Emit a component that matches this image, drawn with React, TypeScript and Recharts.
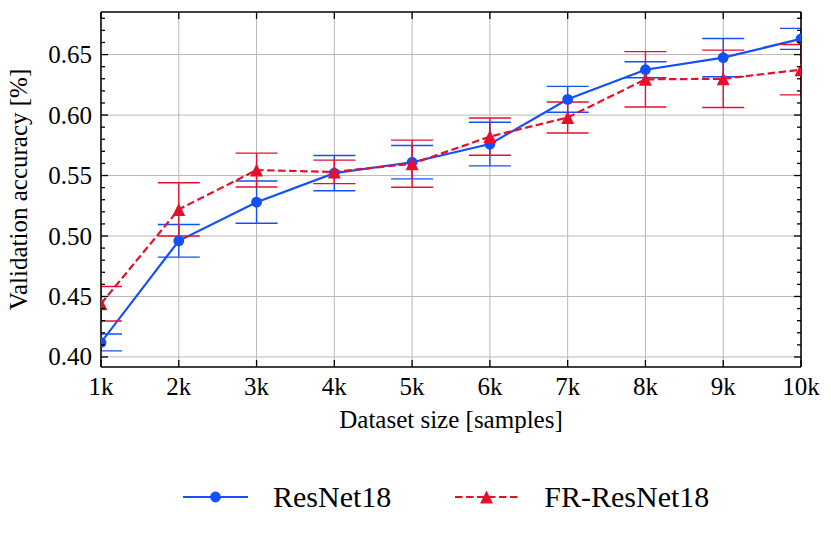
import React from 'react';
import { LineChart, Line, XAxis, YAxis, CartesianGrid, ErrorBar, Legend } from 'recharts';

// ---- data ----
const sizes = [1, 2, 3, 4, 5, 6, 7, 8, 9, 10];
const sizeLabels = ['1k', '2k', '3k', '4k', '5k', '6k', '7k', '8k', '9k', '10k'];
const resnet = [0.412, 0.496, 0.528, 0.552, 0.561, 0.576, 0.613, 0.6375, 0.6475, 0.663];
const resnetErr = [0.007, 0.0135, 0.0175, 0.0146, 0.0138, 0.018, 0.0107, 0.0066, 0.0158, 0.0087];
const frResnet = [0.444, 0.522, 0.5545, 0.553, 0.5598, 0.5822, 0.598, 0.6295, 0.63, 0.6375];
const frResnetErr = [0.0143, 0.022, 0.014, 0.0097, 0.0195, 0.0154, 0.0128, 0.0229, 0.0237, 0.0208];
const majorYTicks = [0.4, 0.45, 0.5, 0.55, 0.6, 0.65];
const allYTicks = [
  0.4, 0.41, 0.42, 0.43, 0.44, 0.45, 0.46, 0.47, 0.48, 0.49, 0.5, 0.51, 0.52, 0.53, 0.54,
  0.55, 0.56, 0.57, 0.58, 0.59, 0.6, 0.61, 0.62, 0.63, 0.64, 0.65, 0.66, 0.67, 0.68,
];
const yDomain = [0.3917, 0.6852];
const seriesNames = ['ResNet18', 'FR-ResNet18'];

const BLUE = '#1450fa';
const RED = '#e6102a';
const FONT = '"Liberation Serif", "Times New Roman", serif';
const FS = 25;

// layout
const M = { top: 11, right: 29, bottom: 111, left: 0 };
const Y_AXIS_W = 101;
const X_AXIS_H = 60;
const W = 831;
const H = 538;

const rows = sizes.map((s, i) => ({
  size: s,
  r: resnet[i],
  rErr: resnetErr[i],
  fr: frResnet[i],
  frErr: frResnetErr[i],
}));

const isMajor = (v: number) => Math.abs(v * 20 - Math.round(v * 20)) < 1e-6;

const LeftTick = (props: any) => {
  const { x, y, payload } = props;
  const v = payload.value as number;
  const major = isMajor(v);
  return (
    <g>
      <path d={`M${x},${y}h${major ? 7 : 4}`} stroke="#000" strokeWidth={1.3} fill="none" />
      {major && (
        <text x={x - 9} y={y + 8.5} textAnchor="end" fontFamily={FONT} fontSize={FS} fill="#000">
          {v.toFixed(2)}
        </text>
      )}
    </g>
  );
};

const RightTick = (props: any) => {
  const { x, y, payload } = props;
  const v = payload.value as number;
  const major = isMajor(v);
  return (
    <g>
      <path d={`M${x},${y}h${major ? -7 : -4}`} stroke="#000" strokeWidth={1.3} fill="none" />
    </g>
  );
};

const BottomTick = (props: any) => {
  const { x, y, payload } = props;
  const idx = sizes.indexOf(payload.value);
  return (
    <g>
      <path d={`M${x},${y}v-7`} stroke="#000" strokeWidth={1.3} fill="none" />
      <text x={x} y={y + 28} textAnchor="middle" fontFamily={FONT} fontSize={FS} fill="#000">
        {sizeLabels[idx]}
      </text>
    </g>
  );
};

const TopTick = (props: any) => {
  const { x, y } = props;
  return (
    <g>
      <path d={`M${x},${y}v7`} stroke="#000" strokeWidth={1.3} fill="none" />
    </g>
  );
};

const BlueDot = (p: any) => <circle key={`b${p.index}`} cx={p.cx} cy={p.cy} r={5.4} fill={BLUE} />;
const RedTri = (p: any) => (
  <polygon
    key={`t${p.index}`}
    points={`${p.cx},${p.cy - 6.5} ${p.cx - 6.5},${p.cy + 6.5} ${p.cx + 6.5},${p.cy + 6.5}`}
    fill={RED}
  />
);

const renderLegend = () => (
  <div style={{ position: 'relative', width: W, height: 60 }}>
    <div style={{ position: 'absolute', left: 183, top: 0, display: 'flex', alignItems: 'center', height: 54 }}>
      <svg width={65} height={30} style={{ display: 'block' }}>
        <line x1={0} x2={65} y1={15} y2={15} stroke={BLUE} strokeWidth={2.2} />
        <circle cx={32.5} cy={15} r={5.4} fill={BLUE} />
      </svg>
      <span style={{ marginLeft: 25, fontFamily: FONT, fontSize: 30, color: '#000', lineHeight: '54px' }}>
        {seriesNames[0]}
      </span>
      <svg width={63} height={30} style={{ display: 'block', marginLeft: 64 }}>
        <line x1={0} x2={63} y1={15} y2={15} stroke={RED} strokeWidth={2.2} strokeDasharray="7.5 3.5" />
        <polygon points="31.5,8.5 25,21.5 38,21.5" fill={RED} />
      </svg>
      <span style={{ marginLeft: 26, fontFamily: FONT, fontSize: 30, color: '#000', lineHeight: '54px' }}>
        {seriesNames[1]}
      </span>
    </div>
  </div>
);

const XTitle = (props: any) => {
  const vb = props.viewBox;
  return (
    <text x={vb.x + vb.width / 2} y={vb.y + 61} textAnchor="middle" fontFamily={FONT} fontSize={FS} fill="#000">
      Dataset size [samples]
    </text>
  );
};

const YTitle = (props: any) => {
  const vb = props.viewBox;
  const cx = 27;
  const cy = vb.y + vb.height / 2;
  return (
    <text
      x={cx}
      y={cy}
      transform={`rotate(-90, ${cx}, ${cy})`}
      textAnchor="middle"
      fontFamily={FONT}
      fontSize={FS}
      fill="#000"
    >
      Validation accuracy [%]
    </text>
  );
};

const plotX = M.left + Y_AXIS_W;
const plotY = M.top + 1;
const plotW = W - (M.right + 1) - plotX;
const plotH = H - M.bottom - X_AXIS_H - plotY;

export default function App() {
  return (
    <div style={{ position: 'absolute', left: 0, top: 0, width: W, height: H, background: '#fff' }}>
      <style>{`
        .recharts-errorBars, .recharts-line-dots { clip-path: url(#plot-area-clip); }
      `}</style>
      <svg width={0} height={0} style={{ position: 'absolute' }}>
        <defs>
          <clipPath id="plot-area-clip" clipPathUnits="userSpaceOnUse">
            <rect x={plotX} y={plotY} width={plotW} height={plotH} />
          </clipPath>
        </defs>
      </svg>
      <LineChart width={W} height={H} data={rows} margin={M}>
        <CartesianGrid
          stroke="#b8b8b8"
          strokeWidth={1}
          horizontalValues={majorYTicks}
          verticalValues={sizes}
        />
        <XAxis
          dataKey="size"
          type="number"
          domain={[1, 10]}
          ticks={sizes}
          interval={0}
          allowDataOverflow
          height={X_AXIS_H}
          tickSize={0}
          tickMargin={0}
          tickLine={false}
          axisLine={{ stroke: '#000', strokeWidth: 1.5 }}
          tick={<BottomTick />}
          label={{ content: <XTitle /> } as any}
        />
        <XAxis
          xAxisId="top"
          dataKey="size"
          type="number"
          orientation="top"
          domain={[1, 10]}
          ticks={sizes}
          interval={0}
          allowDataOverflow
          height={1}
          tickSize={0}
          tickMargin={0}
          tickLine={false}
          axisLine={{ stroke: '#000', strokeWidth: 1.5 }}
          tick={<TopTick />}
        />
        <YAxis
          type="number"
          domain={yDomain}
          ticks={allYTicks}
          interval={0}
          allowDataOverflow
          width={Y_AXIS_W}
          tickSize={0}
          tickMargin={0}
          tickLine={false}
          axisLine={{ stroke: '#000', strokeWidth: 1.5 }}
          tick={<LeftTick />}
          label={{ content: <YTitle /> } as any}
        />
        <YAxis
          yAxisId="right"
          orientation="right"
          type="number"
          domain={yDomain}
          ticks={allYTicks}
          interval={0}
          allowDataOverflow
          width={1}
          tickSize={0}
          tickMargin={0}
          tickLine={false}
          axisLine={{ stroke: '#000', strokeWidth: 1.5 }}
          tick={<RightTick />}
        />
        <Line
          dataKey="r"
          name={seriesNames[0]}
          type="linear"
          stroke={BLUE}
          strokeWidth={2.2}
          dot={BlueDot}
          activeDot={false}
          isAnimationActive={false}
        >
          <ErrorBar dataKey="rErr" width={21} stroke={BLUE} strokeWidth={1.4} direction="y" isAnimationActive={false} />
        </Line>
        <Line
          dataKey="fr"
          name={seriesNames[1]}
          type="linear"
          stroke={RED}
          strokeWidth={2.2}
          strokeDasharray="7.5 3.5"
          dot={RedTri}
          activeDot={false}
          isAnimationActive={false}
        >
          <ErrorBar dataKey="frErr" width={21} stroke={RED} strokeWidth={1.4} direction="y" isAnimationActive={false} />
        </Line>
        <Legend
          layout="horizontal"
          verticalAlign="middle"
          align="center"
          wrapperStyle={{ left: 0, top: 470, width: W, height: 60 }}
          content={renderLegend}
        />
      </LineChart>
    </div>
  );
}
